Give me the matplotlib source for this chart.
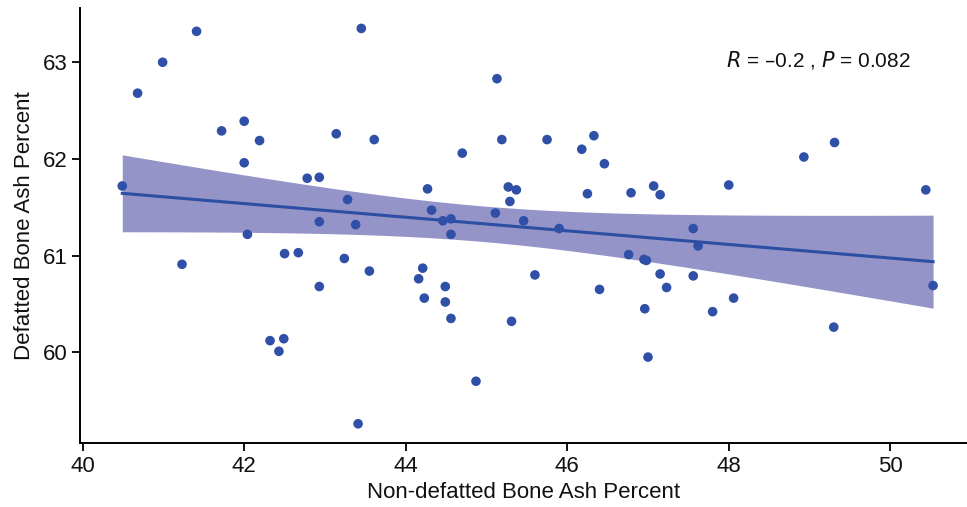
import numpy as np
import matplotlib
matplotlib.use("Agg")
import matplotlib.pyplot as plt

plt.rcParams['font.family'] = ['Liberation Sans', 'DejaVu Sans']

# non-defatted (x) vs defatted (y) bone ash percent
non_defatted = [40.49, 40.68, 40.99, 41.41, 41.72, 42.00, 42.19, 42.00, 42.78, 42.93,
                43.14, 43.45, 43.61, 43.28, 42.93, 43.38, 42.04, 41.23, 42.50, 42.67,
                43.24, 43.55, 42.93, 42.32, 42.49, 42.43, 43.41,
                45.13, 45.19, 45.75, 44.70, 46.18, 46.33, 46.46, 44.27, 45.27, 45.37,
                45.29, 46.25, 46.79, 47.07, 47.15, 44.32, 44.46, 44.56, 44.56, 45.11,
                45.46, 45.90, 47.56, 47.62,
                48.00, 48.93, 49.31, 50.44,
                46.76, 46.95, 46.98, 44.21, 44.16, 44.23, 44.49, 44.49, 44.56, 45.60,
                45.31, 44.87, 46.40, 47.15, 47.23, 47.56, 46.96, 47.00,
                47.80, 48.06, 49.30, 50.53]
defatted = [61.72, 62.68, 63.00, 63.32, 62.29, 62.39, 62.19, 61.96, 61.80, 61.81,
            62.26, 63.35, 62.20, 61.58, 61.35, 61.32, 61.22, 60.91, 61.02, 61.03,
            60.97, 60.84, 60.68, 60.12, 60.14, 60.01, 59.26,
            62.83, 62.20, 62.20, 62.06, 62.10, 62.24, 61.95, 61.69, 61.71, 61.68,
            61.56, 61.64, 61.65, 61.72, 61.63, 61.47, 61.36, 61.38, 61.22, 61.44,
            61.36, 61.28, 61.28, 61.10,
            61.73, 62.02, 62.17, 61.68,
            61.01, 60.96, 60.95, 60.87, 60.76, 60.56, 60.68, 60.52, 60.35, 60.80,
            60.32, 59.70, 60.65, 60.81, 60.67, 60.79, 60.45, 59.95,
            60.42, 60.56, 60.26, 60.69]

x = np.array(non_defatted)
y = np.array(defatted)

# linear fit with 95% confidence band
n = len(x)
slope, intercept = np.polyfit(x, y, 1)
resid = y - (slope * x + intercept)
s = np.sqrt(np.sum(resid ** 2) / (n - 2))
sxx = np.sum((x - x.mean()) ** 2)
xs = np.linspace(x.min(), x.max(), 200)
ys = slope * xs + intercept
se = s * np.sqrt(1.0 / n + (xs - x.mean()) ** 2 / sxx)
tval = 1.99

fig = plt.figure(figsize=(9.67, 5.07), dpi=100)
ax = fig.add_axes([0.083, 0.126, 0.917, 0.858])

ax.fill_between(xs, ys - tval * se, ys + tval * se, color='#9594c8', lw=0, zorder=1)
ax.plot(xs, ys, color='#2c4fa3', lw=2.2, zorder=2)
ax.scatter(x, y, s=48, color='#3050a8', edgecolors='none', zorder=3)

ax.text(0.7285, 0.865, r'$\it{R}$ = –0.2 , $\it{P}$ = 0.082', transform=ax.transAxes,
        fontsize=15, color='#111111')

ax.set_xlim(39.97, 50.95)
ax.set_ylim(59.06, 63.56)
ax.set_xticks([40, 42, 44, 46, 48, 50])
ax.set_yticks([60, 61, 62, 63])
ax.set_xlabel('Non-defatted Bone Ash Percent', fontsize=16, color='#111111', labelpad=4)
ax.set_ylabel('Defatted Bone Ash Percent', fontsize=16, color='#111111', labelpad=6)

for side in ['top', 'right']:
    ax.spines[side].set_visible(False)
for side in ['left', 'bottom']:
    ax.spines[side].set_linewidth(1.4)
ax.tick_params(axis='both', labelsize=16, length=6, width=1.4, colors='#111111', pad=3)

fig.savefig('out.png', dpi=100)
